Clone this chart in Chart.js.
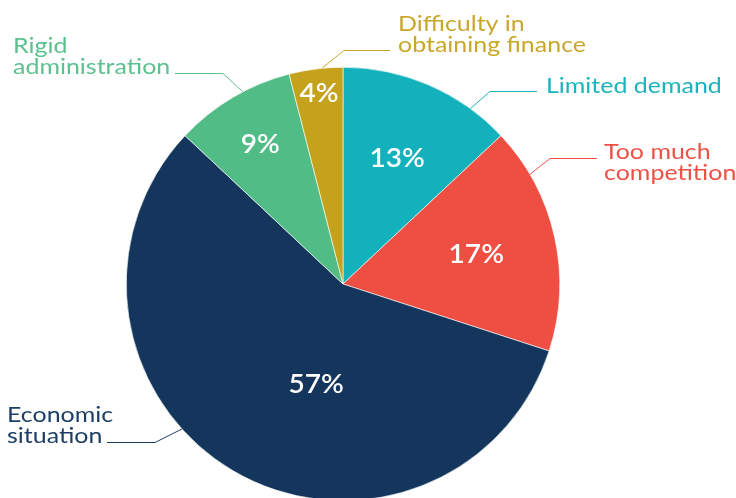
<!DOCTYPE html>
<html>
<head>
<meta charset="utf-8">
<script src="https://cdn.jsdelivr.net/npm/chart.js@4.4.1/dist/chart.umd.min.js"></script>
<style>
  html, body { margin: 0; padding: 0; background: #ffffff; }
  #wrap { width: 736px; height: 498px; overflow: hidden; position: relative; }
  #chart { display: block; }
</style>
</head>
<body>
<div id="wrap"><canvas id="chart" width="736" height="520"></canvas></div>
<script>
// slices, clockwise from 12 o'clock
const categories = ['Limited demand', 'Too much competition', 'Economic situation', 'Rigid administration', 'Difficulty in obtaining finance'];
const shares = [13, 17, 57, 9, 4];
const sliceColors = ['#12b1bc', '#ef4e42', '#14365d', '#52bc86', '#c5a21c'];
const labelColors = ['#1bb3bd', '#ee5046', '#1d3f66', '#5cc18f', '#c9a72a'];

const FONT = 'Lato, "Open Sans", sans-serif';
const WIDEN = 1.135; // the original face is a lot wider than Lato

// where the outside labels sit (angle in degrees clockwise from top, for the leader start)
const outsideLabels = [
    { lines: ['Limited demand'], x: 546, y: 93, angle: 36, elbow: [490, 91], end: [537, 91] },
    { lines: ['Too much', 'competition'], x: 604, y: 159, angle: 59.6, elbow: [550, 158], end: [597, 158] },
    { lines: ['Economic', 'situation'], x: 7, y: 422, angle: 228, elbow: [155, 442], end: [107, 442] },
    { lines: ['Rigid', 'administration'], x: 13, y: 53, angle: 332.5, elbow: [223, 73], end: [175, 73] },
    { lines: ['Difficulty in', 'obtaining finance'], x: 398, y: 31, angle: 354.4, elbow: [344, 50], end: [390, 50] },
];

// inside value labels: fraction of radius, optional angle override
const valueLabels = [
    { r: 0.63 }, { r: 0.63 }, { r: 0.48, angle: 195 }, { r: 0.75 }, { r: 0.885 },
];

const labelPlugin = {
    id: 'pieLabels',
    afterDatasetsDraw(chart) {
        const { ctx } = chart;
        const arcs = chart.getDatasetMeta(0).data;
        const cx = arcs[0].x;
        const cy = arcs[0].y;
        const radius = arcs[0].outerRadius;

        ctx.save();
        // values
        ctx.fillStyle = '#ffffff';
        ctx.font = `600 27px ${FONT}`;
        ctx.textAlign = 'center';
        ctx.textBaseline = 'middle';
        arcs.forEach((arc, i) => {
            const cfg = valueLabels[i];
            const mid = cfg.angle !== undefined
                ? (cfg.angle - 90) * Math.PI / 180
                : (arc.startAngle + arc.endAngle) / 2;
            const x = cx + Math.cos(mid) * radius * cfg.r;
            const y = cy + Math.sin(mid) * radius * cfg.r;
            ctx.save();
            ctx.translate(x, y);
            ctx.scale(1.04, 1);
            ctx.fillText(`${shares[i]}%`, 0, 0);
            ctx.restore();
        });

        // category names with leader lines
        ctx.textAlign = 'left';
        ctx.textBaseline = 'alphabetic';
        ctx.font = `400 22px ${FONT}`;
        ctx.lineWidth = 1;
        outsideLabels.forEach((lbl, i) => {
            const a = (lbl.angle - 90) * Math.PI / 180;
            const sx = cx + Math.cos(a) * radius;
            const sy = cy + Math.sin(a) * radius;
            ctx.strokeStyle = labelColors[i];
            ctx.beginPath();
            ctx.moveTo(sx, sy);
            ctx.lineTo(lbl.elbow[0], lbl.elbow[1] + 0.5);
            ctx.lineTo(lbl.end[0], lbl.end[1] + 0.5);
            ctx.stroke();
            ctx.fillStyle = labelColors[i];
            lbl.lines.forEach((line, j) => {
                ctx.save();
                ctx.translate(lbl.x, lbl.y + j * 21);
                ctx.scale(WIDEN, 1);
                ctx.fillText(line, 0, 0);
                ctx.restore();
            });
        });
        ctx.restore();
    },
};

new Chart(document.getElementById('chart'), {
    type: 'pie',
    data: {
        labels: categories,
        datasets: [{
            data: shares,
            backgroundColor: sliceColors,
            borderColor: '#ffffff',
            borderWidth: 0.6,
        }],
    },
    options: {
        responsive: false,
        animation: false,
        events: [],
        layout: { padding: { left: 126, right: 176, top: 67, bottom: 19 } },
        plugins: {
            legend: { display: false },
            tooltip: { enabled: false },
        },
    },
    plugins: [labelPlugin],
});
</script>
</body>
</html>
